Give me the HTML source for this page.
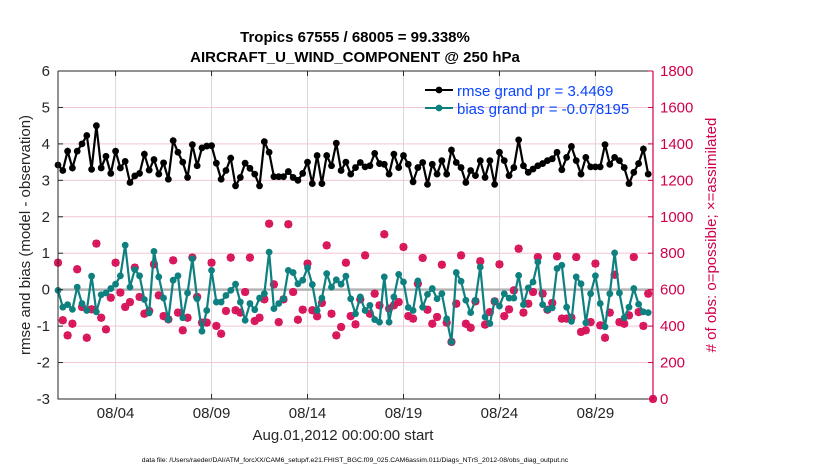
<!DOCTYPE html>
<html><head><meta charset="utf-8"><style>
body{margin:0;background:#fff;}
svg{display:block;font-family:"Liberation Sans",Arial,sans-serif;}
</style></head><body>
<svg id="chart" width="830" height="470" viewBox="0 0 830 470"></svg>
<script>
const xTickLabels=["08/04","08/09","08/14","08/19","08/24","08/29"];
const xTickDays=[3,8,13,18,23,28];
const leftTicks=[-3,-2,-1,0,1,2,3,4,5,6];
const rightTicks=[0,200,400,600,800,1000,1200,1400,1600,1800];
const rmse=[3.42,3.27,3.80,3.34,3.80,4.0,4.23,3.30,4.5,3.34,3.66,3.19,3.8,3.34,3.52,2.94,3.12,3.19,3.72,3.28,3.57,3.17,3.48,3.03,4.09,3.77,3.5,3.08,3.98,3.4,3.89,3.94,3.95,3.47,3.03,3.27,3.61,2.85,3.08,3.47,3.33,3.17,2.85,4.06,3.77,3.1,3.1,3.1,3.24,3.08,3.0,3.19,3.5,2.91,3.68,2.91,3.68,3.4,4.02,3.27,3.5,3.17,
3.35,3.49,3.37,3.40,3.74,3.46,3.44,3.17,3.72,3.35,3.68,3.44,2.96,3.35,3.49,2.89,3.44,3.17,3.54,3.17,3.83,3.49,3.35,2.94,3.27,3.13,3.54,3.08,3.54,2.89,3.77,3.54,3.13,3.35,4.11,3.40,3.22,3.31,3.40,3.46,3.54,3.59,3.77,3.29,3.63,3.93,3.54,3.17,3.63,3.37,3.37,3.37,3.98,3.44,3.63,3.54,3.35,2.91,3.22,3.46,3.86,3.17];
const bias=[-0.02,-0.48,-0.41,-0.54,0.07,-0.38,-0.57,0.37,-0.61,-0.14,-0.09,0.03,0.15,0.38,1.22,0.07,0.55,0.38,-0.27,-0.64,1.05,0.35,-0.23,-0.82,0.26,0.38,-0.77,-0.09,0.85,-0.25,-1.14,-0.57,0.53,-0.34,-0.34,-0.16,-0.02,0.15,-0.34,-0.84,-0.38,-0.55,-0.23,-0.11,1.03,-0.52,-0.38,-0.25,0.53,0.47,0.16,0.26,0.6,0.14,-0.57,-0.23,0.44,0.07,0.27,0.15,0.37,-0.25,
-0.66,-0.2,-0.57,-0.43,-0.82,-0.89,0.35,-0.89,-0.2,0.42,0.21,-0.49,-0.57,0.24,-0.48,-0.13,0.03,-0.25,-0.11,-0.8,-1.44,0.47,0.23,-0.29,-0.63,-0.29,0.62,-0.75,-0.93,-0.31,-0.45,-0.11,-0.23,-0.23,0.39,-0.41,0.05,0.21,0.76,-0.41,-0.55,-0.5,0.58,0.67,-0.48,-0.87,0.35,0.16,-0.91,-0.11,0.38,-0.38,-1.02,-0.11,1.01,-0.09,-0.77,-0.48,0.03,-0.4,-0.61,-0.63];
const obsCount=[748,432,349,413,712,505,336,492,853,446,382,556,748,584,505,532,721,560,468,483,739,569,455,437,761,474,377,446,776,560,419,419,748,401,358,483,776,487,474,587,776,428,446,547,962,629,422,547,959,587,435,490,743,487,454,527,843,468,349,395,748,455,
410,547,788,468,578,514,904,496,514,532,834,455,441,633,774,490,413,450,737,419,313,523,788,413,391,536,756,408,477,536,739,455,492,596,825,474,523,587,779,578,490,527,783,441,441,446,779,368,377,422,743,404,336,474,682,422,413,459,779,477,401,578,0];

const svg=document.getElementById('chart');
const NS='http://www.w3.org/2000/svg';
const X0=58,X1=653,Y0=71,Y1=399;
const xs=d=>X0+d/31*(X1-X0);
const yL=v=>Y1-(v+3)/9*(Y1-Y0);
const yR=c=>Y1-c/1800*(Y1-Y0);
function el(t,a,p){const e=document.createElementNS(NS,t);for(const k in a)e.setAttribute(k,a[k]);(p||svg).appendChild(e);return e;}

const bg=el('rect',{x:X0,y:Y0,width:X1-X0,height:Y1-Y0,fill:'#fff'});


rightTicks.forEach(c=>{const l=el('line',{x1:X0,x2:X1,y1:yR(c),y2:yR(c),stroke:'#f2c6d6','stroke-width':1});

});
xTickDays.forEach(d=>{const l=el('line',{x1:xs(d),x2:xs(d),y1:Y0,y2:Y1,stroke:'#d8d8d8','stroke-width':1});

});
const zl=el('line',{x1:X0,x2:X1,y1:yL(0),y2:yL(0),stroke:'#b4b4b4','stroke-width':2.5});



const og=el('g',{});


obsCount.forEach((c,i)=>{const x=xs(i*0.25),y=yR(c);
const g=el('g',{},og);


el('circle',{cx:x,cy:y,r:3.3,fill:'none',stroke:'#d8145a','stroke-width':1.6},g);
el('path',{d:`M${x-4} ${y}H${x+4}M${x} ${y-4}V${y+4}M${x-3} ${y-3}L${x+3} ${y+3}M${x-3} ${y+3}L${x+3} ${y-3}`,stroke:'#d8145a','stroke-width':1.6},g);});

function series(vals,col,name){const g=el('g',{});


el('polyline',{points:vals.map((v,i)=>xs(i*0.25)+','+yL(v)).join(' '),fill:'none',stroke:col,'stroke-width':2.2},g);
vals.forEach((v,i)=>{const c=el('circle',{cx:xs(i*0.25),cy:yL(v),r:3.4,fill:col},g);

});}
series(bias,'#0e8080','bias-series');
series(rmse,'#000','rmse-series');

const ax=el('path',{d:`M${X0} ${Y0}H${X1}M${X0} ${Y0}V${Y1}H${X1}`,fill:'none',stroke:'#262626','stroke-width':1});


const ra=el('line',{x1:X1,x2:X1,y1:Y0,y2:Y1,stroke:'#d0004c','stroke-width':1.2});


leftTicks.forEach(v=>{const y=yL(v);el('line',{x1:X0,x2:X0+5,y1:y,y2:y,stroke:'#262626'});
const t=el('text',{x:X0-8,y:y+5,'text-anchor':'end','font-size':15,fill:'#262626'});t.textContent=v;

});
rightTicks.forEach(c=>{const y=yR(c);el('line',{x1:X1-5,x2:X1,y1:y,y2:y,stroke:'#d0004c'});
const t=el('text',{x:X1+7,y:y+5,'font-size':15,fill:'#d0004c'});t.textContent=c;

});
xTickDays.forEach((d,i)=>{const x=xs(d);el('line',{x1:x,x2:x,y1:Y1,y2:Y1-5,stroke:'#262626'});el('line',{x1:x,x2:x,y1:Y0,y2:Y0+5,stroke:'#262626'});
const t=el('text',{x:x,y:Y1+19,'text-anchor':'middle','font-size':15,fill:'#262626'});t.textContent=xTickLabels[i];

});
</script>
<svg style="position:absolute;left:0;top:0" width="830" height="470">
<text x="355" y="42" text-anchor="middle" font-size="15" font-weight="bold" fill="#000" font-family="Liberation Sans,sans-serif">Tropics 67555 / 68005 = 99.338%</text>
<text x="355" y="62" text-anchor="middle" font-size="15" font-weight="bold" fill="#000" font-family="Liberation Sans,sans-serif">AIRCRAFT_U_WIND_COMPONENT @ 250 hPa</text>
<text x="343" y="440" text-anchor="middle" font-size="15" fill="#262626" font-family="Liberation Sans,sans-serif">Aug.01,2012 00:00:00 start</text>
<text transform="translate(30,235) rotate(-90)" text-anchor="middle" font-size="15" fill="#262626" font-family="Liberation Sans,sans-serif">rmse and bias (model - observation)</text>
<text transform="translate(716,235) rotate(-90)" text-anchor="middle" font-size="15" fill="#d0004c" font-family="Liberation Sans,sans-serif"># of obs: o=possible; ×=assimilated</text>
<text x="355" y="462" text-anchor="middle" font-size="6.8" fill="#000" font-family="Liberation Sans,sans-serif">data file: /Users/raeder/DAI/ATM_forcXX/CAM6_setup/f.e21.FHIST_BGC.f09_025.CAM6assim.011/Diags_NTrS_2012-08/obs_diag_output.nc</text>
<g font-family="Liberation Sans,sans-serif">
<g><line x1="425" x2="453" y1="90" y2="90" stroke="#000" stroke-width="2"/><circle cx="439" cy="90" r="3.4" fill="#000"/><text x="457" y="96" font-size="15" fill="#0a46ff">rmse grand pr = 3.4469</text></g>
<g><line x1="425" x2="453" y1="108" y2="108" stroke="#0e8080" stroke-width="2"/><circle cx="439" cy="108" r="3.4" fill="#0e8080"/><text x="457" y="114" font-size="15" fill="#0a46ff">bias grand pr = -0.078195</text></g>
</g>
</svg>
</body></html>
